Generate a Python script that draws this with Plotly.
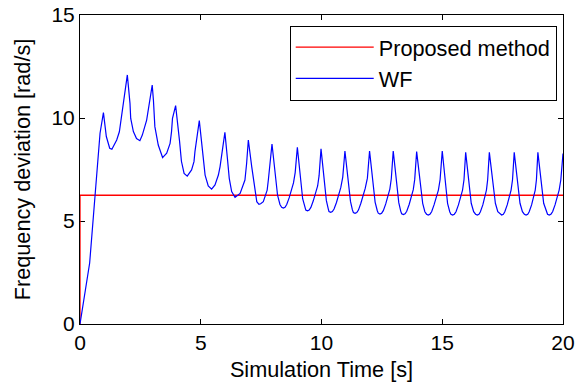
import plotly.graph_objects as go

# Proposed method (constant after step at t=0)
prop_t = [0, 0, 20]
prop_y = [0, 6.25, 6.25]

# WF response
wf_t = [0, 0.4, 0.83, 0.97, 1.09, 1.23, 1.32, 1.52, 1.63, 1.70, 1.96,
        2.07, 2.10, 2.21, 2.34, 2.48, 2.58, 2.76, 2.99,
        3.04, 3.10, 3.24, 3.42, 3.59, 3.73, 3.79, 3.83, 3.96,
        4.04, 4.12, 4.20, 4.31, 4.44, 4.62, 4.72, 4.76, 4.94,
        5.10, 5.18, 5.31, 5.45, 5.59, 5.73, 5.80, 6.00,
        6.11, 6.18, 6.28, 6.42, 6.63, 6.83, 6.90, 6.97,
        7.11, 7.25, 7.32, 7.41, 7.48, 7.59, 7.75, 7.80, 7.95,
        8.18, 8.28, 8.35, 8.42, 8.49, 8.56, 8.66, 8.84, 8.91, 9.00,
        9.22, 9.31, 9.35, 9.42, 9.49, 9.56, 9.66, 9.84, 9.90, 9.98,
        10.20, 10.28, 10.31, 10.38, 10.45, 10.52, 10.62, 10.80, 10.88, 10.97,
        11.20, 11.28, 11.32, 11.39, 11.46, 11.53, 11.63, 11.81, 11.90, 11.99,
        12.22, 12.31, 12.35, 12.42, 12.49, 12.56, 12.66, 12.83, 12.89, 12.97,
        13.20, 13.28, 13.32, 13.39, 13.46, 13.53, 13.63, 13.80, 13.86, 13.94,
        14.19, 14.28, 14.35, 14.42, 14.49, 14.56, 14.66, 14.84, 14.91, 15.00,
        15.22, 15.31, 15.36, 15.43, 15.50, 15.57, 15.67, 15.84, 15.90, 15.97,
        16.20, 16.30, 16.38, 16.45, 16.52, 16.58, 16.68, 16.83, 16.88, 16.95,
        17.20, 17.30, 17.39, 17.46, 17.53, 17.59, 17.69, 17.85, 17.91, 17.98,
        18.22, 18.32, 18.40, 18.47, 18.54, 18.60, 18.70, 18.85, 18.90, 18.96,
        19.20, 19.30, 19.36, 19.43, 19.50, 19.57, 19.67, 19.84, 19.91, 20.00]
wf_y = [0, 2.96, 9.26, 10.26, 9.10, 8.53, 8.48, 8.93, 9.33, 9.90, 12.09,
        10.71, 9.98, 9.34, 9.00, 8.90, 9.17, 9.90, 11.60,
        10.87, 9.58, 8.69, 8.08, 8.29, 8.77, 9.34, 9.98, 10.60,
        9.83, 8.90, 7.90, 7.31, 7.18, 7.48, 7.88, 8.37, 9.87,
        7.96, 7.23, 6.70, 6.55, 6.75, 7.23, 7.64, 9.30,
        7.96, 7.07, 6.43, 6.15, 6.34, 6.99, 7.80, 8.93,
        7.64, 6.34, 5.94, 5.81, 5.84, 5.94, 6.50, 7.00, 8.74,
        6.25, 5.80, 5.67, 5.63, 5.67, 5.80, 6.12, 6.85, 7.35, 8.58,
        6.08, 5.66, 5.53, 5.49, 5.53, 5.66, 5.98, 6.70, 7.20, 8.50,
        6.00, 5.59, 5.46, 5.42, 5.46, 5.58, 5.90, 6.63, 7.13, 8.40,
        5.95, 5.54, 5.41, 5.37, 5.41, 5.53, 5.86, 6.58, 7.08, 8.40,
        5.92, 5.50, 5.38, 5.34, 5.38, 5.50, 5.83, 6.55, 7.05, 8.40,
        5.89, 5.48, 5.35, 5.31, 5.35, 5.47, 5.80, 6.52, 7.02, 8.37,
        5.86, 5.45, 5.33, 5.29, 5.33, 5.45, 5.78, 6.50, 7.00, 8.40,
        5.86, 5.45, 5.33, 5.29, 5.33, 5.45, 5.78, 6.50, 7.00, 8.33,
        5.86, 5.45, 5.33, 5.29, 5.33, 5.45, 5.78, 6.50, 7.00, 8.33,
        5.86, 5.45, 5.33, 5.29, 5.33, 5.45, 5.78, 6.50, 7.00, 8.33,
        5.86, 5.45, 5.33, 5.29, 5.33, 5.45, 5.78, 6.50, 7.00, 8.33,
        5.86, 5.45, 5.33, 5.29, 5.33, 5.45, 5.78, 6.50, 7.00, 8.28]

x_ticks = [0, 5, 10, 15, 20]
y_ticks = [0, 5, 10, 15]

FONT = "Liberation Sans, Arial, sans-serif"
FS = 21
FT = 21.7

fig = go.Figure()
fig.add_trace(go.Scatter(x=prop_t, y=prop_y, mode="lines", name="Proposed method",
                         line=dict(color="#ff0000", width=1.3)))
fig.add_trace(go.Scatter(x=wf_t, y=wf_y, mode="lines", name="WF",
                         line=dict(color="#0000ff", width=1.2)))

axis_common = dict(showgrid=False, zeroline=False, showline=True, linecolor="black",
                   linewidth=1, mirror="ticks", ticks="inside", ticklen=5,
                   tickcolor="black", tickfont=dict(size=FS, color="black", family=FONT),
                   layer="below traces", automargin=False)

fig.update_xaxes(range=[0, 20], tickvals=x_ticks, ticktext=[str(v) for v in x_ticks],
                 title=dict(text="Simulation Time [s]", font=dict(size=FT, color="black", family=FONT),
                            standoff=8),
                 **axis_common)
fig.update_yaxes(range=[0, 15], tickvals=y_ticks, ticktext=[str(v) for v in y_ticks],
                 title=dict(text="Frequency deviation [rad/s]", font=dict(size=FT, color="black", family=FONT),
                            standoff=14),
                 **axis_common)

fig.update_layout(
    width=584, height=390,
    margin=dict(l=80, r=21, t=15, b=66),
    paper_bgcolor="white", plot_bgcolor="white",
    font=dict(family=FONT, size=FS, color="black"),
    showlegend=True,
    legend=dict(x=0.987, y=0.966, xanchor="right", yanchor="top",
                bgcolor="white", bordercolor="black", borderwidth=1,
                font=dict(size=FT, color="black", family=FONT),
                itemwidth=78, tracegroupgap=0),
)

fig.write_html("out.html")
